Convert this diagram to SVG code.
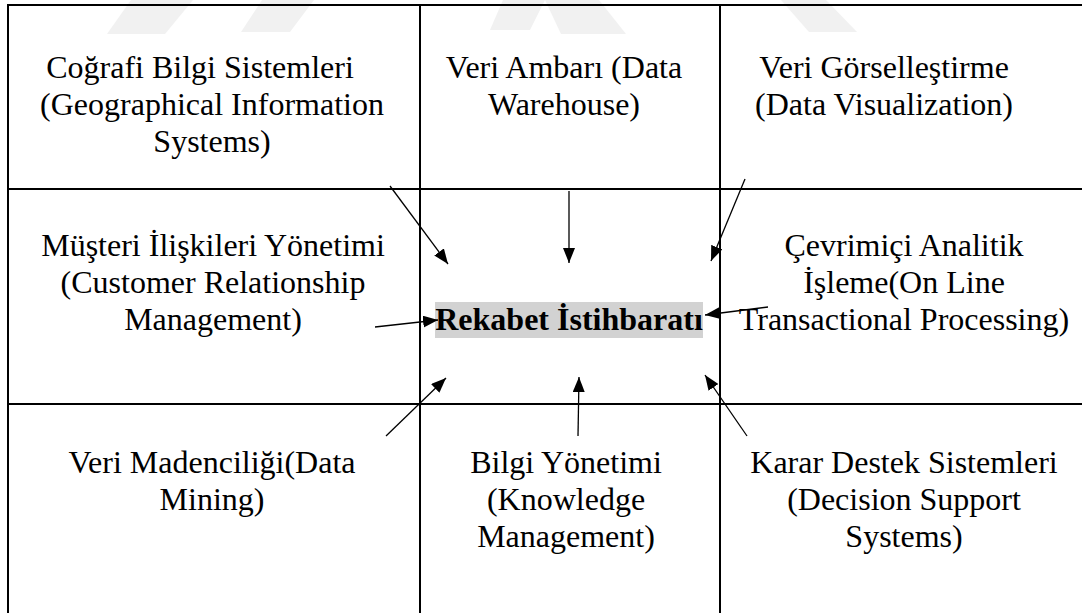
<svg xmlns="http://www.w3.org/2000/svg" width="1082" height="613" viewBox="0 0 1082 613">
  <style>
    .grid line { stroke: #000; stroke-width: 2; }
    .t { font-family: "Liberation Serif", "Times New Roman", serif; font-size: 32px; fill: #000; text-anchor: middle; }
    .hub { font-weight: bold; }
    .wm { fill: #f1f1f1; }
    .conn line { stroke: #000; stroke-width: 1.3; marker-end: url(#head); }
  </style>
  <defs>
    <marker id="head" markerUnits="userSpaceOnUse" markerWidth="15" markerHeight="12" refX="15" refY="6" orient="auto">
      <path d="M0,0 L15,6 L0,12 Z" fill="#000"/>
    </marker>
  </defs>

  <rect x="0" y="0" width="1082" height="613" fill="#fff"/>

  <!-- faint background emblem strokes along the top edge -->
  <g id="watermark">
    <polygon class="wm" points="131,0 193,0 165,34 107,34"/>
    <polygon class="wm" points="262,0 314,0 290,32 241,32"/>
    <polygon class="wm" points="503,0 545,0 530,30 490,30"/>
    <polygon class="wm" points="545,0 599,0 626,34 561,34"/>
    <polygon class="wm" points="781,0 826,0 857,32 809,32"/>
  </g>

  <!-- table rules -->
  <g id="grid" class="grid">
    <line x1="8" y1="4" x2="8" y2="613"/>
    <line x1="7" y1="5" x2="1082" y2="5"/>
    <line x1="420" y1="4" x2="420" y2="613"/>
    <line x1="720" y1="4" x2="720" y2="613"/>
    <line x1="7" y1="189" x2="1082" y2="189"/>
    <line x1="7" y1="404" x2="1082" y2="404"/>
  </g>

  <g id="node-cbs">
    <text class="t" x="200" y="78">Coğrafi Bilgi Sistemleri</text>
    <text class="t" x="212" y="115">(Geographical Information</text>
    <text class="t" x="212" y="152">Systems)</text>
  </g>
  <g id="node-veri-ambari">
    <text class="t" x="564" y="78">Veri Ambarı (Data</text>
    <text class="t" x="564" y="115">Warehouse)</text>
  </g>
  <g id="node-veri-gorsellestirme">
    <text class="t" x="884" y="78">Veri Görselleştirme</text>
    <text class="t" x="884" y="115">(Data Visualization)</text>
  </g>
  <g id="node-crm">
    <text class="t" x="213" y="256">Müşteri İlişkileri Yönetimi</text>
    <text class="t" x="213" y="293">(Customer Relationship</text>
    <text class="t" x="213" y="330">Management)</text>
  </g>
  <g id="node-rekabet">
    <rect x="435" y="302" width="268" height="36" fill="#d2d2d2"/>
    <text class="t hub" x="569" y="330">Rekabet İstihbaratı</text>
  </g>
  <g id="node-olap">
    <text class="t" x="904" y="256">Çevrimiçi Analitik</text>
    <text class="t" x="904" y="293">İşleme(On Line</text>
    <text class="t" x="904" y="330">Transactional Processing)</text>
  </g>
  <g id="node-veri-madenciligi">
    <text class="t" x="212" y="473">Veri Madenciliği(Data</text>
    <text class="t" x="212" y="510">Mining)</text>
  </g>
  <g id="node-bilgi-yonetimi">
    <text class="t" x="566" y="473">Bilgi Yönetimi</text>
    <text class="t" x="566" y="510">(Knowledge</text>
    <text class="t" x="566" y="547">Management)</text>
  </g>
  <g id="node-kds">
    <text class="t" x="904" y="473">Karar Destek Sistemleri</text>
    <text class="t" x="904" y="510">(Decision Support</text>
    <text class="t" x="904" y="547">Systems)</text>
  </g>

  <!-- arrows pointing into the central cell -->
  <g id="connectors" class="conn">
    <line x1="390" y1="186" x2="448" y2="264"/>
    <line x1="569" y1="191" x2="569" y2="263"/>
    <line x1="745" y1="179" x2="711" y2="261"/>
    <line x1="375" y1="327" x2="438" y2="320"/>
    <line x1="768" y1="307" x2="705" y2="315"/>
    <line x1="386" y1="436" x2="446" y2="378"/>
    <line x1="578" y1="436" x2="579" y2="377"/>
    <line x1="747" y1="436" x2="705" y2="375"/>
  </g>
</svg>
